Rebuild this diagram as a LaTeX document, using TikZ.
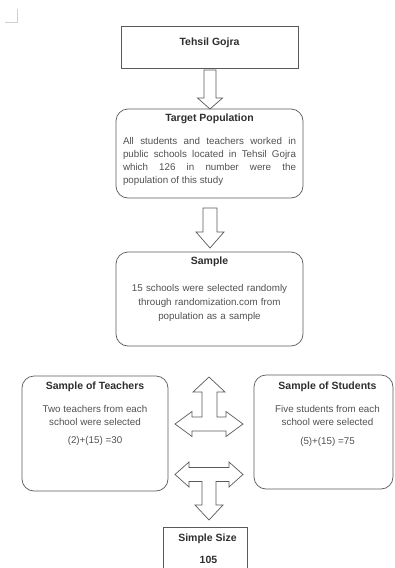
\documentclass[tikz,border=0pt]{standalone}
\usepackage{fontspec}
\setmainfont{Liberation Sans}
\usetikzlibrary{positioning}

\definecolor{linegray}{HTML}{5A5A5A}
\definecolor{titlegray}{HTML}{2E2E2E}
\definecolor{bodygray}{HTML}{505050}
\definecolor{markgray}{HTML}{D0D0D0}

\tikzset{
  box/.style={draw=linegray, line width=0.7pt, inner sep=0pt},
  roundbox/.style={box, rounded corners=12pt},
  ttl/.style={font=\fontsize{10.5}{12}\selectfont\bfseries, text=titlegray, inner sep=0pt},
  bodytxt/.style={font=\fontsize{9.8}{13}\selectfont, text=bodygray, inner sep=0pt},
  blockarrow/.style={draw=linegray, line width=0.7pt, fill=white, line join=miter},
}

\begin{document}
\begin{tikzpicture}[x=1pt, y=-1pt]
      \useasboundingbox (0,0) rectangle (395,568);
      \clip (0,0) rectangle (395,568);
      \draw[markgray, line width=0.8pt] (5,22) -- (17.5,22) -- (17.5,9);

      % top of the chart
      \node[box, minimum width=177pt, minimum height=42pt] (tehsil) at (209.5,47) {};
      \node[ttl] (tehsilttl) at (209.5,43) {Tehsil Gojra};
      \draw[blockarrow] (204,70) -- (216,70) -- (216,98) -- (222.5,98) -- (210,109)
            -- (197.5,98) -- (204,98) -- cycle;

      \node[roundbox, minimum width=187pt, minimum height=89pt] (target) at (209.5,153.5) {};
      \node[ttl] (targetttl) at (209.5,119) {Target Population};
      \node[bodytxt, text width=173pt, align=justify, anchor=north] (targettxt) at (209.5,137.5)
            {All students and teachers worked in\linebreak public schools located in Tehsil Gojra\linebreak which 126 in number were the\linebreak population of this study};
      \draw[blockarrow] (203,208) -- (217,208) -- (217,232) -- (224,232) -- (210,248)
            -- (196,232) -- (203,232) -- cycle;

      \node[roundbox, minimum width=187pt, minimum height=94pt] (sample) at (209.5,299) {};
      \node[ttl] (samplettl) at (209.5,262) {Sample};
      \node[bodytxt, text width=180pt, align=center, font=\fontsize{9.8}{14}\selectfont, anchor=north] (sampletxt) at (209.5,284.5)
            {15 schools were selected randomly\\ through randomization.com from\\ population as a sample};

      % two groups
      \node[roundbox, minimum width=146pt, minimum height=115pt] (teachers) at (95,433.5) {};
      \node[ttl] (teachersttl) at (95,387) {Sample of Teachers};
      \node[bodytxt, align=center, anchor=north] (teacherstxt) at (95,405.5)
            {Two teachers from each\\ school were selected};
      \node[bodytxt] (teachersnum) at (95,441) {(2)+(15) =30};

      \node[roundbox, minimum width=139pt, minimum height=114pt] (students) at (323.5,432) {};
      \node[ttl] (studentsttl) at (327.5,387) {Sample of Students};
      \node[bodytxt, align=center, anchor=north] (studentstxt) at (327.5,405.5)
            {Five students from each\\ school were selected};
      \node[bodytxt] (studentsnum) at (327.5,442) {(5)+(15) =75};

      \draw[blockarrow] (209,377) -- (225,392) -- (217,392) -- (217,417) -- (226,417)
            -- (226,411.5) -- (243,424) -- (226,436.5) -- (226,431) -- (192,431)
            -- (192,436.5) -- (175,424) -- (192,411.5) -- (192,417) -- (202,417)
            -- (202,392) -- (193,392) -- cycle;
      \draw[blockarrow] (175,474.5) -- (189,462) -- (189,467.5) -- (229,467.5) -- (229,462)
            -- (243,474.5) -- (229,487) -- (229,481.5) -- (216,481.5) -- (216,505)
            -- (223,505) -- (209,520) -- (195,505) -- (202,505) -- (202,481.5)
            -- (189,481.5) -- (189,487) -- cycle;

      % total
      \node[box, minimum width=84pt, minimum height=52pt] (simple) at (205,553) {};
      \node[ttl] (simplettl) at (207.5,539) {Simple Size};
      \node[ttl] (simplenum) at (208.5,559.5) {105};
\end{tikzpicture}
\end{document}
